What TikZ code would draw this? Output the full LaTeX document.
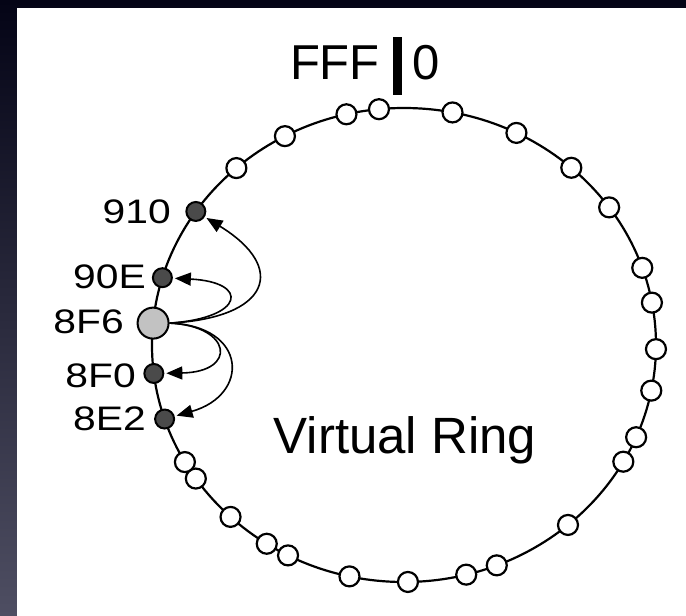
\documentclass[tikz,border=0pt]{standalone}
\usepackage{fontspec}
\usepackage{graphicx}
\setmainfont{Liberation Sans}
\usetikzlibrary{arrows.meta,calc}

\definecolor{bgtop}{RGB}{4,4,22}
\definecolor{bgbottom}{RGB}{78,78,98}
\definecolor{nodedark}{RGB}{74,74,74}
\definecolor{nodelight}{RGB}{194,194,194}

% slightly widened digits for the node identifiers
\newcommand{\idtext}[1]{\scalebox{1.2}[1]{#1}}

\begin{document}
\begin{tikzpicture}[x=1pt,y=1pt,
  ringline/.style={line width=2.2pt},
  peer/.style={circle,draw,line width=2.2pt,fill=white,minimum size=20pt,inner sep=0pt},
  nbr/.style={circle,draw,line width=2pt,fill=nodedark,minimum size=19pt,inner sep=0pt},
  self/.style={circle,draw,line width=2pt,fill=nodelight,minimum size=31pt,inner sep=0pt},
  link/.style={line width=1.6pt,-{Triangle[length=16pt,width=13pt]},shorten >=2pt},
  idlabel/.style={anchor=east,inner sep=0pt,font=\fontsize{34}{40}\selectfont},
  bigtext/.style={inner sep=0pt,font=\fontsize{49}{58}\selectfont},
]
% backdrop and white sheet
\useasboundingbox (0,0) rectangle (686,-616);
\shade[top color=bgtop,bottom color=bgbottom] (0,0) rectangle (686,-616);
\fill[white] (17,-8) rectangle (686,-616);

% the ring
\coordinate (c) at (404,-345);
\draw[ringline] (c) ellipse [x radius=252, y radius=237];

% ordinary peers on the ring
\foreach \t [count=\i] in {103.2,95.7,78.9,63.5,48.4,35.5,19.0,10.3,-1.0,-11.1,-22.9,-29.5,
                          -49.4,-68.4,-75.7,-89.1,-102.5,-117.4,-123.0,-133.5,-145.7,-150.4,
                          131.7,118.2}
  \node[peer] (p\i) at ($(c)+(\t:252 and 237)$) {};

% the local node and its neighbours
\node[nbr]  (n910) at ($(c)+(145.7:252 and 237)$) {};
\node[nbr]  (n90E) at ($(c)+(163.5:252 and 237)$) {};
\node[self] (n8F6) at ($(c)+(174.7:252 and 237)$) {};
\node[nbr]  (n8F0) at ($(c)+(-173.1:252 and 237)$) {};
\node[nbr]  (n8E2) at ($(c)+(-161.8:252 and 237)$) {};

% identifiers
\node[idlabel] (l910) at (171,-212) {\idtext{910}};
\node[idlabel] (l90E) at (146,-277) {\idtext{90E}};
\node[idlabel] (l8F6) at (124,-322) {\idtext{8F6}};
\node[idlabel] (l8F0) at (136,-376) {\idtext{8F0}};
\node[idlabel] (l8E2) at (146,-419) {\idtext{8E2}};

% leaf-set pointers
\draw[link] (n8F6.east) .. controls (270,-318) and (288,-268) .. (n910);
\draw[link] (n8F6.east) .. controls (245,-318) and (250,-282) .. (n90E);
\draw[link] (n8F6.east) .. controls (232,-326) and (238,-372) .. (n8F0);
\draw[link] (n8F6.east) .. controls (248,-326) and (250,-395) .. (n8E2);

% wrap-around marker
\node[bigtext,anchor=base east] (fff) at (380,-79) {FFF};
\node[bigtext,anchor=base west] (zero) at (412,-79) {0};
\draw[line width=9pt] (397,-37) -- (397,-95);

% caption
\node[inner sep=0pt,anchor=base,font=\fontsize{51}{60}\selectfont] (title) at (405,-453) {Virtual Ring};
\end{tikzpicture}
\end{document}
